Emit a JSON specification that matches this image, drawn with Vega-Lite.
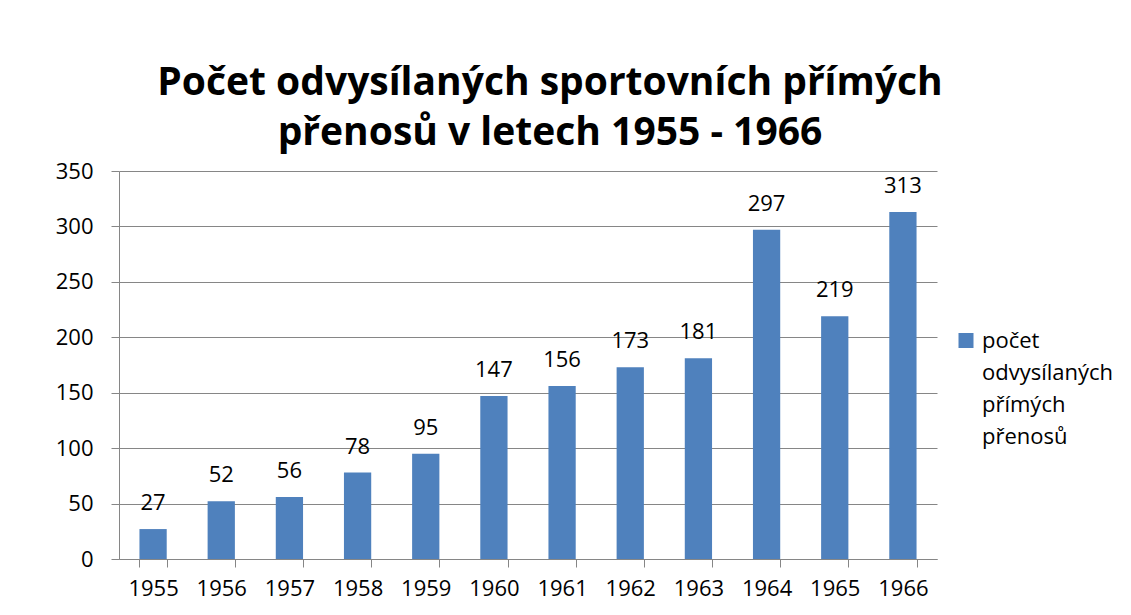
{
  "$schema": "https://vega.github.io/schema/vega-lite/v6.json",
  "width": 818,
  "height": 388,
  "autosize": "none",
  "padding": {"left": 119, "top": 171, "right": 194, "bottom": 56},
  "background": "white",
  "title": {
    "text": ["Počet odvysílaných sportovních přímých", "přenosů v letech 1955 - 1966"],
    "font": "Open Sans",
    "fontSize": 39,
    "fontWeight": "bold",
    "color": "#000000",
    "anchor": "middle",
    "dx": 22,
    "offset": 7,
    "lineHeight": 50
  },
  "data": {
    "values": [
      {"rok": "1955", "pocet": 27, "serie": "počet odvysílaných přímých přenosů"},
      {"rok": "1956", "pocet": 52, "serie": "počet odvysílaných přímých přenosů"},
      {"rok": "1957", "pocet": 56, "serie": "počet odvysílaných přímých přenosů"},
      {"rok": "1958", "pocet": 78, "serie": "počet odvysílaných přímých přenosů"},
      {"rok": "1959", "pocet": 95, "serie": "počet odvysílaných přímých přenosů"},
      {"rok": "1960", "pocet": 147, "serie": "počet odvysílaných přímých přenosů"},
      {"rok": "1961", "pocet": 156, "serie": "počet odvysílaných přímých přenosů"},
      {"rok": "1962", "pocet": 173, "serie": "počet odvysílaných přímých přenosů"},
      {"rok": "1963", "pocet": 181, "serie": "počet odvysílaných přímých přenosů"},
      {"rok": "1964", "pocet": 297, "serie": "počet odvysílaných přímých přenosů"},
      {"rok": "1965", "pocet": 219, "serie": "počet odvysílaných přímých přenosů"},
      {"rok": "1966", "pocet": 313, "serie": "počet odvysílaných přímých přenosů"}
    ]
  },
  "encoding": {
    "x": {
      "field": "rok",
      "type": "ordinal",
      "scale": {"paddingInner": 0.6, "paddingOuter": 0.3},
      "axis": {
        "title": null,
        "labelAngle": 0,
        "labelFont": "Open Sans",
        "labelFontSize": 22,
        "labelColor": "#000000",
        "labelPadding": 11,
        "tickBand": "extent",
        "tickSize": 8,
        "tickColor": "#868686",
        "domainColor": "#868686",
        "grid": false
      }
    },
    "y": {
      "field": "pocet",
      "type": "quantitative",
      "scale": {"domain": [0, 350], "nice": false},
      "axis": {
        "title": null,
        "values": [0, 50, 100, 150, 200, 250, 300, 350],
        "labelFont": "Open Sans",
        "labelFontSize": 22,
        "labelColor": "#000000",
        "labelPadding": 18,
        "tickSize": 8,
        "tickColor": "#868686",
        "domainColor": "#868686",
        "gridColor": "#868686",
        "gridOpacity": 1
      }
    }
  },
  "layer": [
    {
      "mark": {"type": "bar"},
      "encoding": {
        "color": {
          "field": "serie",
          "type": "nominal",
          "scale": {"range": ["#4F81BD"]},
          "legend": {
            "title": null,
            "orient": "none",
            "legendX": 836,
            "legendY": 166,
            "symbolType": "M-1,-2H1V0H-1Z",
            "symbolSize": 225,
            "symbolStrokeWidth": 0,
            "symbolFillColor": "#4F81BD",
            "labelFont": "Open Sans",
            "labelFontSize": 22,
            "labelColor": "#000000",
            "labelLimit": 300,
            "labelOffset": 5,
            "labelBaseline": "alphabetic",
            "labelExpr": "['počet', 'odvysílaných', 'přímých', 'přenosů']"
          }
        }
      }
    },
    {
      "mark": {"type": "text", "baseline": "alphabetic", "dy": -19, "font": "Open Sans", "fontSize": 22, "color": "#000000"},
      "encoding": {"text": {"field": "pocet", "type": "quantitative"}}
    }
  ],
  "config": {
    "view": {"stroke": null},
    "style": {"guide-label": {"lineHeight": 32}}
  }
}
